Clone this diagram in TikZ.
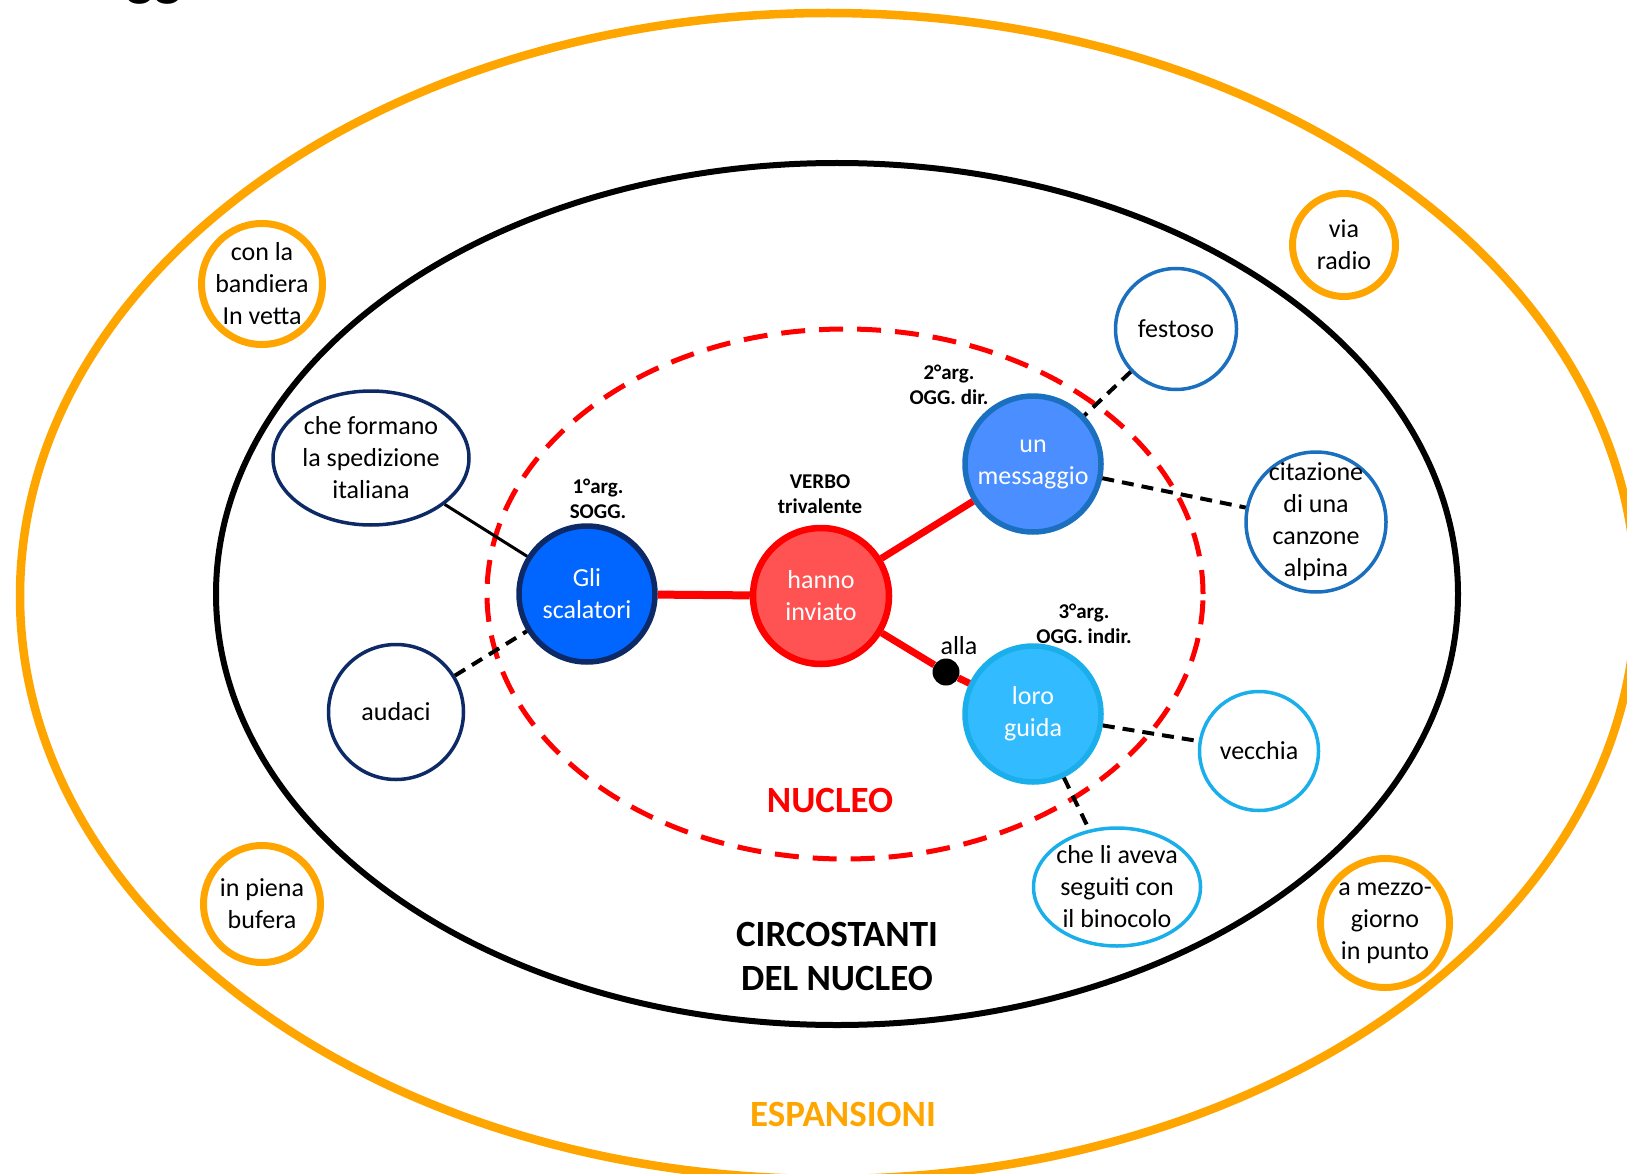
\documentclass[tikz,border=0pt]{standalone}
\usepackage{fontspec}
\setmainfont{Carlito}
\usetikzlibrary{shapes.geometric}
\definecolor{orangeE}{HTML}{FFA500}
\definecolor{navyB}{HTML}{0E2A66}
\definecolor{blueS}{HTML}{0066FF}
\definecolor{redV}{HTML}{FF0000}
\definecolor{redF}{HTML}{FF5252}
\definecolor{blueO}{HTML}{4A8EFF}
\definecolor{blueOB}{HTML}{1A6FBF}
\definecolor{cyanF}{HTML}{33BBFF}
\definecolor{cyanB}{HTML}{1AAFEA}
\begin{document}
\begin{tikzpicture}[x=1pt,y=-1pt,
  txt/.style={font=\fontsize{26}{32}\selectfont, align=center, inner sep=0pt},
  wtxt/.style={txt, text=white},
  lbl/.style={font=\fontsize{21}{25}\selectfont\bfseries, align=center, inner sep=0pt},
  big/.style={font=\fontsize{37}{44}\selectfont\bfseries, align=center, inner sep=0pt},
  core/.style={circle, minimum size=136pt, inner sep=0pt, line width=5.5pt},
  sat/.style={circle, line width=3.5pt, inner sep=0pt},
  satell/.style={ellipse, line width=3.5pt, inner sep=0pt},
  expc/.style={circle, draw=orangeE, line width=7pt, inner sep=0pt},
  link/.style={redV, line width=7.5pt},
  dep/.style={black, line width=4pt, dash pattern=on 12pt off 8pt},
]
\useasboundingbox (0,0) rectangle (1627,1174);

% partial title at the top edge
\node[font=\fontsize{58}{60}\selectfont\bfseries, anchor=base west, inner sep=0pt] (ttl) at (126,-5) {gg};

% the three zones
\node[ellipse, draw=orangeE, line width=8.5pt, minimum width=1616pt, minimum height=1166pt, inner sep=0pt] (espE) at (828,596) {};
\node[ellipse, draw=black, line width=6pt, minimum width=1242pt, minimum height=862pt, inner sep=0pt] (circE) at (837,594) {};
\node[ellipse, draw=redV, line width=5pt, dash pattern=on 24pt off 14pt, minimum width=716pt, minimum height=530pt, inner sep=0pt] (nucE) at (845,594) {};

% core nodes
\node[core, fill=blueS, draw=navyB, label={[wtxt]center:Gli\\scalatori}] (gli) at (587,594) {};
\node[core, fill=redF, draw=redV, line width=6.5pt, label={[wtxt]center:hanno\\inviato}] (han) at (821,596) {};
\node[core, fill=blueO, draw=blueOB, label={[wtxt]center:un\\messaggio}] (msg) at (1033,464) {};
\node[core, fill=cyanF, draw=cyanB, label={[wtxt]center:loro\\guida}] (lor) at (1033,714) {};
\node[circle, fill=black, minimum size=27pt, inner sep=0pt] (dot) at (946,672) {};

% satellites of the nucleus
\node[satell, draw=navyB, minimum width=196pt, minimum height=134pt, label={[txt]center:che formano\\la spedizione\\italiana}] (form) at (371,458) {};
\node[sat, draw=navyB, minimum size=135pt, label={[txt]center:audaci}] (aud) at (396,712) {};
\node[sat, draw=blueOB, minimum size=121pt, label={[txt]center:festoso}] (fes) at (1176,329) {};
\node[sat, draw=blueOB, minimum size=140pt, label={[txt]center:citazione\\di una\\canzone\\alpina}] (cit) at (1316,522) {};
\node[sat, draw=cyanB, minimum size=119pt, label={[txt]center:vecchia}] (vec) at (1259,751) {};
\node[satell, draw=cyanB, minimum width=167pt, minimum height=118pt, label={[txt]center:che li aveva\\seguiti con\\il binocolo}] (bin) at (1117,887) {};

% expansions
\node[expc, minimum size=121pt, label={[txt]center:con la\\bandiera\\In vetta}] (vet) at (262,284) {};
\node[expc, minimum size=103pt, label={[txt]center:via\\radio}] (rad) at (1344,245) {};
\node[expc, minimum size=117pt, label={[txt]center:in piena\\bufera}] (buf) at (262,904) {};
\node[expc, minimum size=129pt, label={[txt]center:a mezzo-\\giorno\\in punto}] (mez) at (1385,923) {};

% connectors
\draw[link, line width=8pt] (gli) -- (han);
\draw[link, line width=7pt] (han) -- (msg);
\draw[link, line width=7pt] (han) -- (dot) -- (lor);
\draw[black, line width=3pt] (form) -- (gli);
\draw[dep] (aud) -- (gli);
\draw[dep] (fes) -- (msg);
\draw[dep] (msg) -- (cit);
\draw[dep] (lor) -- (vec);
\draw[dep] (lor) -- (bin);

% labels
\node[lbl] (l1) at (598,499) {1°arg.\\SOGG.};
\node[lbl] (l0) at (820,494) {VERBO\\trivalente};
\node[lbl] (l2) at (949,385) {2°arg.\\OGG. dir.};
\node[lbl] (l3) at (1084,624) {3°arg.\\OGG. indir.};
\node[txt] (alla) at (959,646) {alla};

\node[big, text=redV] (nuc) at (830,800) {NUCLEO};
\node[big] (circ) at (837,956) {CIRCOSTANTI\\DEL NUCLEO};
\node[big, text=orangeE] (esp) at (843,1114) {ESPANSIONI};
\end{tikzpicture}
\end{document}
